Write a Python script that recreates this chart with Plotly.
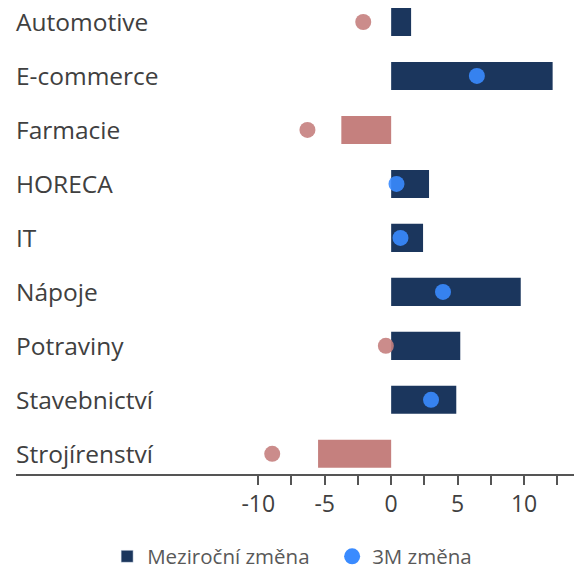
import plotly.graph_objects as go

categories = ["Automotive", "E-commerce", "Farmacie", "HORECA", "IT", "Nápoje",
              "Potraviny", "Stavebnictví", "Strojírenství"]
yoy_change = [1.5, 12.15, -3.75, 2.85, 2.4, 9.75, 5.2, 4.9, -5.5]
m3_change = [-2.1, 6.45, -6.3, 0.4, 0.7, 3.9, -0.4, 3.0, -8.95]
tick_vals = [-10, -5, 0, 5, 10]
tick_text = ["-10", "-5", "0", "5", "10"]
minor_vals = [-7.5, -2.5, 2.5, 7.5, 12.5]
legend_names = ["Meziroční změna", "3M změna"]

NAVY = "#1b365d"
ROSE = "#c5807e"
BLUE = "#3a8bff"
FONT = "Open Sans"

bar_colors = [NAVY if v >= 0 else ROSE for v in yoy_change]
dot_colors = [BLUE if v >= 0 else ROSE for v in m3_change]

fig = go.Figure()
fig.add_trace(go.Bar(
    x=yoy_change, y=categories, orientation="h",
    marker=dict(color=bar_colors, line=dict(width=0)),
    width=0.52, showlegend=False, hoverinfo="x+y",
))
fig.add_trace(go.Scatter(
    x=m3_change, y=categories, mode="markers",
    marker=dict(color=dot_colors, size=16, opacity=0.9, line=dict(width=0)),
    showlegend=False,
))
# legend entries
fig.add_trace(go.Bar(x=[None], y=[None], orientation="h", name=legend_names[0],
                     marker=dict(color=NAVY), showlegend=True))
fig.add_trace(go.Scatter(x=[None], y=[None], mode="markers", name=legend_names[1],
                         marker=dict(color=BLUE, size=16), showlegend=True))

for c in categories:
    fig.add_annotation(x=0, xref="paper", y=c, yref="y", text=c, showarrow=False,
                       xanchor="left", yanchor="middle", xshift=-2,
                       font=dict(family=FONT, size=24.5, color="#404040"))

fig.update_layout(
    width=574, height=560,
    margin=dict(l=8, r=0, t=0, b=93.5, autoexpand=False),
    paper_bgcolor="white", plot_bgcolor="white",
    barmode="overlay",
    font=dict(family=FONT, color="#404040"),
    legend=dict(orientation="h", x=0.161, xanchor="left", y=-0.177, yanchor="middle",
                font=dict(family=FONT, size=20.5, color="#595959"),
                entrywidth=180, entrywidthmode="pixels"),
    xaxis=dict(range=[-28.23, 14.36], tickmode="array", tickvals=tick_vals,
               ticktext=tick_text, showgrid=False, zeroline=False,
               showline=True, linecolor="#555555", linewidth=1.5,
               ticks="outside", ticklen=9, tickcolor="#555555", tickwidth=1.5,
               tickfont=dict(family=FONT, size=23, color="#404040"),
               minor=dict(tickmode="array", tickvals=minor_vals, ticks="outside",
                          ticklen=9, tickcolor="#555555", tickwidth=1.5,
                          showgrid=False)),
    yaxis=dict(range=[8.374, -0.259], showticklabels=False, showgrid=False,
               zeroline=False, showline=False, ticks=""),
)

fig.write_html("out.html")
